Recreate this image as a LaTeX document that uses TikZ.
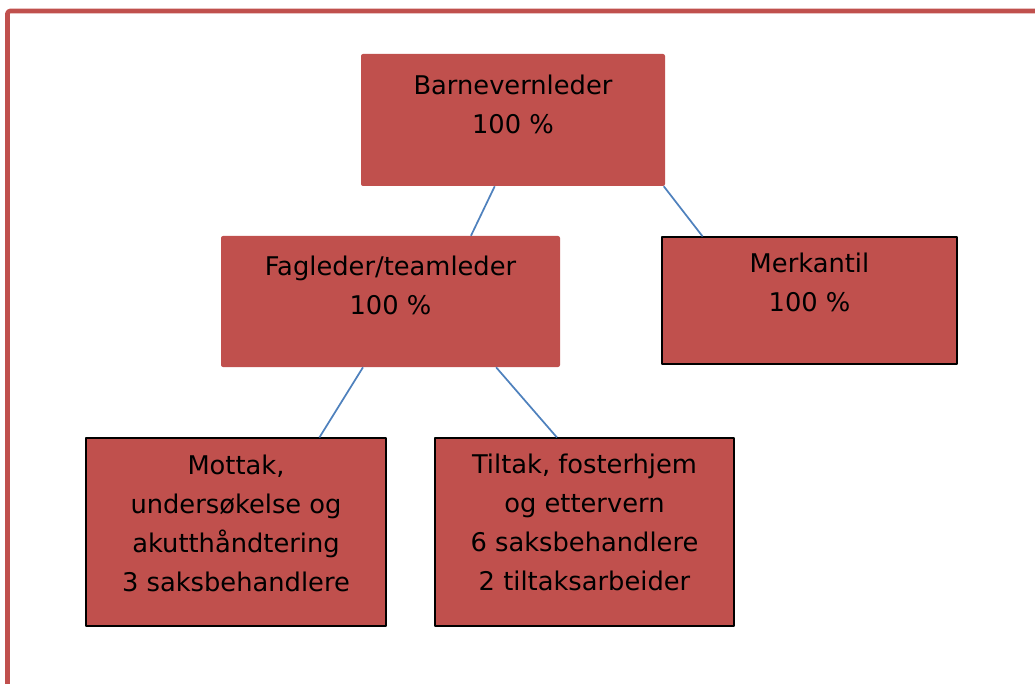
\documentclass[tikz,border=0pt]{standalone}
\usepackage{fontspec}
\setmainfont{DejaVu Sans}
\usetikzlibrary{calc}
\definecolor{boxred}{HTML}{C0504D}
\definecolor{linkblue}{HTML}{4F81BD}
\begin{document}
\begin{tikzpicture}[x=0.75pt,y=-0.75pt,line join=round,font=\fontsize{19.3}{29.25}\selectfont]
	\tikzset{orgbox/.style={fill=boxred,inner sep=0pt},
		topbox/.style={orgbox,rounded corners=1.5pt},
		edgebox/.style={orgbox,draw=black,line width=0.9pt},
		orgtext/.style={anchor=north,align=center,inner sep=0pt},
		link/.style={draw=linkblue,line width=1.3pt}}
	\useasboundingbox (0,0) rectangle (1035,684);
	\clip (0,0) rectangle (1035,684);
	\draw[boxred,line width=3.5pt,rounded corners=2pt] (7.5,11) rectangle (1060,710);
	\node[topbox,minimum width=228pt,minimum height=99pt] (leder) at (513,120) {};
	\node[topbox,minimum width=254.25pt,minimum height=98.25pt] (fag) at (390.5,301.5) {};
	\node[edgebox,minimum width=221.25pt,minimum height=95.25pt] (merk) at (809.5,300.5) {};
	\node[edgebox,minimum width=225pt,minimum height=141pt] (mottak) at (236,532) {};
	\node[edgebox,minimum width=224.25pt,minimum height=141pt] (tiltak) at (584.5,532) {};
	\node[orgtext] (ledertekst) at ($(leder.north)+(0,20.5)$) {Barnevernleder\\100 \%};
	\node[orgtext] (fagtekst) at ($(fag.north)+(0,19.5)$) {Fagleder/teamleder\\100 \%};
	\node[orgtext] (merktekst) at ($(merk.north)+(0,16.5)$) {Merkantil\\100 \%};
	\node[orgtext] (mottaktekst) at ($(mottak.north)+(0,17.5)$) {Mottak,\\undersøkelse og\\akutthåndtering\\3 saksbehandlere};
	\node[orgtext] (tiltaktekst) at ($(tiltak.north)+(0,16.5)$) {Tiltak, fosterhjem\\og ettervern\\6 saksbehandlere\\2 tiltaksarbeider};
	\draw[link] ($(leder.south west)!0.44!(leder.south east)$)--($(fag.north west)!0.737!(fag.north east)$);
	\draw[link] ($(leder.south west)!0.995!(leder.south east)$)--($(merk.north west)!0.139!(merk.north east)$);
	\draw[link] ($(fag.south west)!0.419!(fag.south east)$)--($(mottak.north west)!0.777!(mottak.north east)$);
	\draw[link] ($(fag.south west)!0.811!(fag.south east)$)--($(tiltak.north west)!0.408!(tiltak.north east)$);
\end{tikzpicture}
\end{document}
